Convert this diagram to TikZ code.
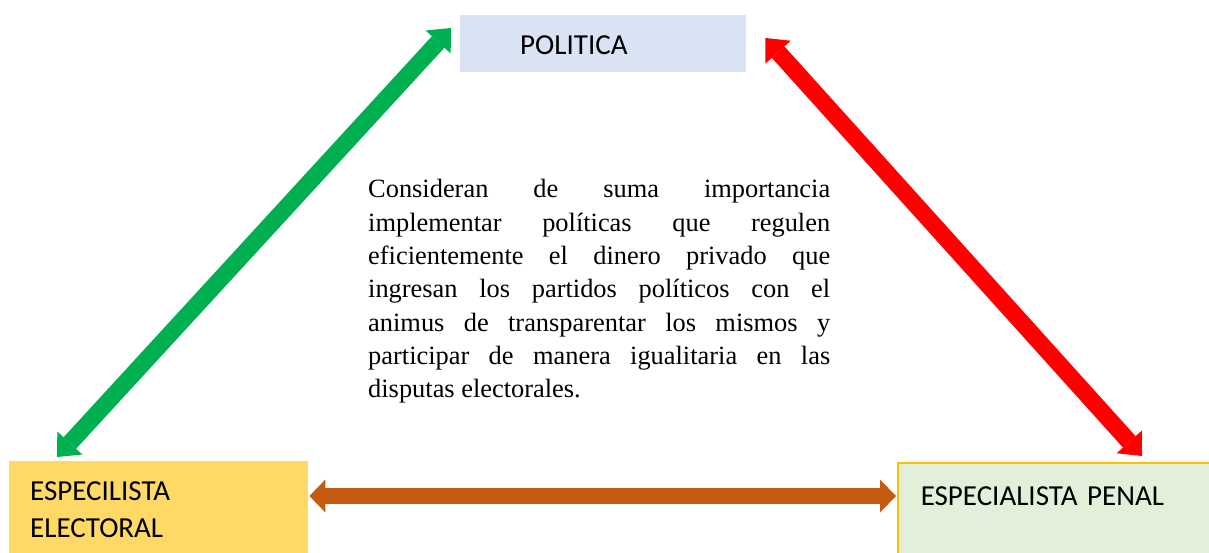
\documentclass[tikz,border=0pt]{standalone}
\usepackage{fontspec}
\setmainfont{Liberation Serif}
\newfontfamily\carlfont{Carlito}
\usetikzlibrary{arrows.meta,calc}
\definecolor{polblue}{HTML}{DAE3F3}
\definecolor{elegold}{HTML}{FFD966}
\definecolor{pengreen}{HTML}{E2F0D9}
\definecolor{penedge}{HTML}{FFC000}
\definecolor{arrgreen}{HTML}{00B050}
\definecolor{arrred}{HTML}{FF0000}
\definecolor{arrorange}{HTML}{C55A11}
\newcommand{\fullline}[1]{\makebox[462pt][s]{\spaceskip=0pt\xspaceskip=0pt\relax #1}}
\begin{document}
\begin{tikzpicture}[x=1pt,y=-1pt,
  box/.style={anchor=north west, inner ysep=0pt, align=left,
    font=\carlfont\fontsize{29}{37}\selectfont},
  diagarrow/.style={line width=17pt,
    {Triangle[length=19pt,width=34pt,line width=0pt]}-{Triangle[length=19pt,width=34pt,line width=0pt]}},
  flatarrow/.style={line width=16pt,
    {Triangle[length=16pt,width=33pt,line width=0pt]}-{Triangle[length=16pt,width=33pt,line width=0pt]}},
  bodytext/.style={anchor=base west, inner sep=0pt, text width=462pt, align=justify,
    font=\fontsize{26.4}{33.3}\selectfont}
]
\clip (0,0) rectangle (1209,553);
\fill[white] (0,0) rectangle (1209,553);

\node[box, fill=polblue, inner xsep=60pt, text width=166pt,
  text height=39pt, text depth=18pt] (pol) at (460,15) {POLITICA};
\node[box, fill=elegold, inner xsep=21pt, text width=257pt,
  text height=39pt, text depth=80pt] (ele) at (9,461) {ESPECILISTA\\ELECTORAL};
\node[box, fill=pengreen, draw=penedge, line width=1.5pt, inner xsep=23pt,
  text width=300pt, text height=43pt, text depth=80pt] (pen) at (897,462) {ESPECIALISTA PENAL};

\node[bodytext] (txt) at (368,198) {%
\fullline{Consideran de suma importancia}\\
\fullline{implementar políticas que regulen}\\
\fullline{eficientemente el dinero privado que}\\
\fullline{ingresan los partidos políticos con el}\\
\fullline{animus de transparentar los mismos y}\\
\fullline{participar de manera igualitaria en las}\\
disputas electorales.};

\coordinate (gB) at ([shift={(48,-4)}]ele.north west);
\coordinate (gT) at ([shift={(-9,13)}]pol.north west);
\coordinate (rT) at ([shift={(19,23)}]pol.north east);
\coordinate (rB) at ([shift={(245,-6)}]pen.north west);
\coordinate (oL) at ([shift={(1,35)}]ele.north east);
\coordinate (oR) at ([shift={(-1,34)}]pen.north west);

\draw[diagarrow, arrgreen] (gB) -- (gT);
\draw[diagarrow, arrred] (rT) -- (rB);
\draw[flatarrow, arrorange] (oL) -- (oR);
\end{tikzpicture}
\end{document}
